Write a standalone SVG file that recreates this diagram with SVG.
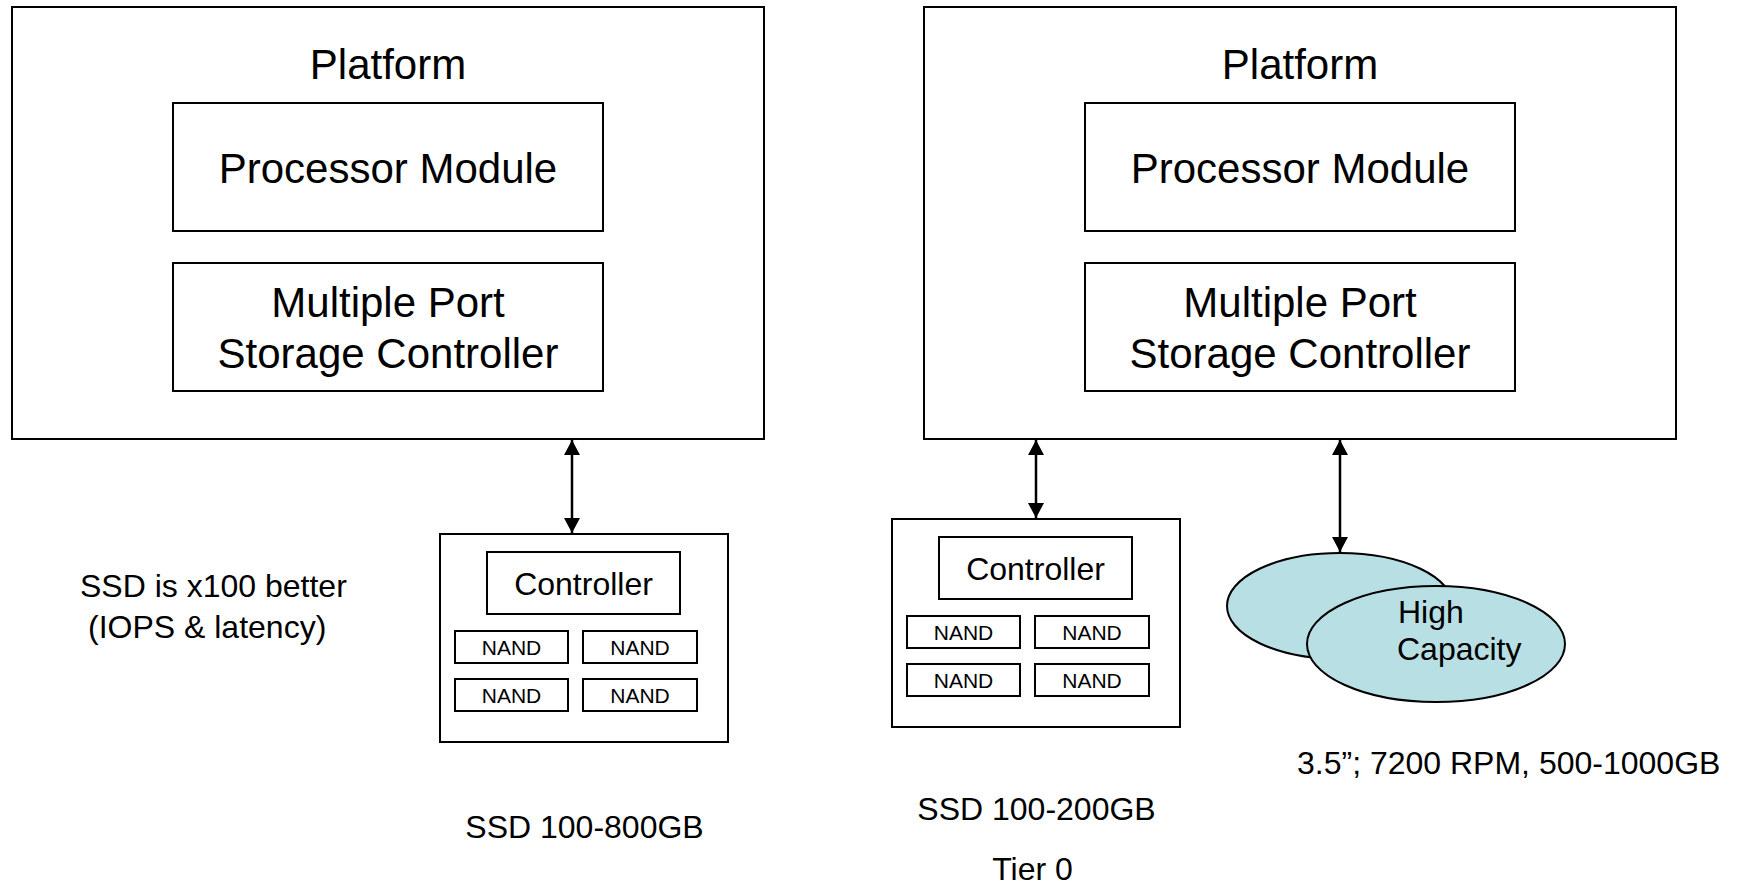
<svg xmlns="http://www.w3.org/2000/svg" width="1741" height="886" viewBox="0 0 1741 886">
<style>
  .box { fill: #ffffff; stroke: #000000; stroke-width: 2; }
  .disk { fill: #b8dfe3; stroke: #000000; stroke-width: 2; }
  .t { font-family: "Liberation Sans", Arial, sans-serif; fill: #000000; }
  .big { font-size: 42px; text-anchor: middle; }
  .mid { font-size: 32px; }
  .c { text-anchor: middle; }
  .small { font-size: 21px; text-anchor: middle; }
  .link { stroke: #000000; stroke-width: 2.5; fill: none; marker-start: url(#arr); marker-end: url(#arr); }
</style>
<defs>
  <marker id="arr" markerUnits="userSpaceOnUse" markerWidth="16" markerHeight="16" refX="15" refY="8" orient="auto-start-reverse">
    <path d="M0,0 L15,8 L0,16 Z" fill="#000000"/>
  </marker>
</defs>
<rect width="1741" height="886" fill="#ffffff"/>

<g id="platform-left">
  <rect class="box" x="12" y="7" width="752" height="432"/>
  <text class="t big" x="388" y="79">Platform</text>
</g>
<g id="processor-left">
  <rect class="box" x="173" y="103" width="430" height="128"/>
  <text class="t big" x="388" y="183">Processor Module</text>
</g>
<g id="storage-left">
  <rect class="box" x="173" y="263" width="430" height="128"/>
  <text class="t big" x="388" y="317">Multiple Port</text>
  <text class="t big" x="388" y="368">Storage Controller</text>
</g>

<g id="platform-right">
  <rect class="box" x="924" y="7" width="752" height="432"/>
  <text class="t big" x="1300" y="79">Platform</text>
</g>
<g id="processor-right">
  <rect class="box" x="1085" y="103" width="430" height="128"/>
  <text class="t big" x="1300" y="183">Processor Module</text>
</g>
<g id="storage-right">
  <rect class="box" x="1085" y="263" width="430" height="128"/>
  <text class="t big" x="1300" y="317">Multiple Port</text>
  <text class="t big" x="1300" y="368">Storage Controller</text>
</g>

<g id="ssd-left">
  <rect class="box" x="440" y="534" width="288" height="208"/>
  <rect class="box" x="487" y="552" width="193" height="62"/>
  <text class="t mid c" x="583.5" y="595">Controller</text>
  <rect class="box" x="455" y="631" width="113" height="32"/>
  <text class="t small" x="511.5" y="655">NAND</text>
  <rect class="box" x="583" y="631" width="114" height="32"/>
  <text class="t small" x="640" y="655">NAND</text>
  <rect class="box" x="455" y="679" width="113" height="32"/>
  <text class="t small" x="511.5" y="703">NAND</text>
  <rect class="box" x="583" y="679" width="114" height="32"/>
  <text class="t small" x="640" y="703">NAND</text>
</g>

<g id="ssd-right">
  <rect class="box" x="892" y="519" width="288" height="208"/>
  <rect class="box" x="939" y="537" width="193" height="62"/>
  <text class="t mid c" x="1035.5" y="580">Controller</text>
  <rect class="box" x="907" y="616" width="113" height="32"/>
  <text class="t small" x="963.5" y="640">NAND</text>
  <rect class="box" x="1035" y="616" width="114" height="32"/>
  <text class="t small" x="1092" y="640">NAND</text>
  <rect class="box" x="907" y="664" width="113" height="32"/>
  <text class="t small" x="963.5" y="688">NAND</text>
  <rect class="box" x="1035" y="664" width="114" height="32"/>
  <text class="t small" x="1092" y="688">NAND</text>
</g>

<g id="hdd">
  <ellipse class="disk" cx="1340" cy="606" rx="113" ry="53"/>
  <ellipse class="disk" cx="1436" cy="644" rx="129" ry="58"/>
  <text class="t mid" x="1398" y="623">High</text>
  <text class="t mid" x="1397" y="660">Capacity</text>
</g>

<g id="connectors">
  <line class="link" x1="572" y1="440" x2="572" y2="533"/>
  <line class="link" x1="1036" y1="440" x2="1036" y2="518"/>
  <line class="link" x1="1340" y1="440" x2="1340" y2="552"/>
</g>

<g id="labels">
  <text class="t mid" x="80" y="597">SSD is x100 better</text>
  <text class="t mid" x="88" y="638">(IOPS &amp; latency)</text>
  <text class="t mid c" x="584.5" y="838">SSD 100-800GB</text>
  <text class="t mid c" x="1036.5" y="820">SSD 100-200GB</text>
  <text class="t mid c" x="1032.5" y="880">Tier 0</text>
  <text class="t mid" x="1297" y="774">3.5”; 7200 RPM, 500-1000GB</text>
</g>
</svg>
